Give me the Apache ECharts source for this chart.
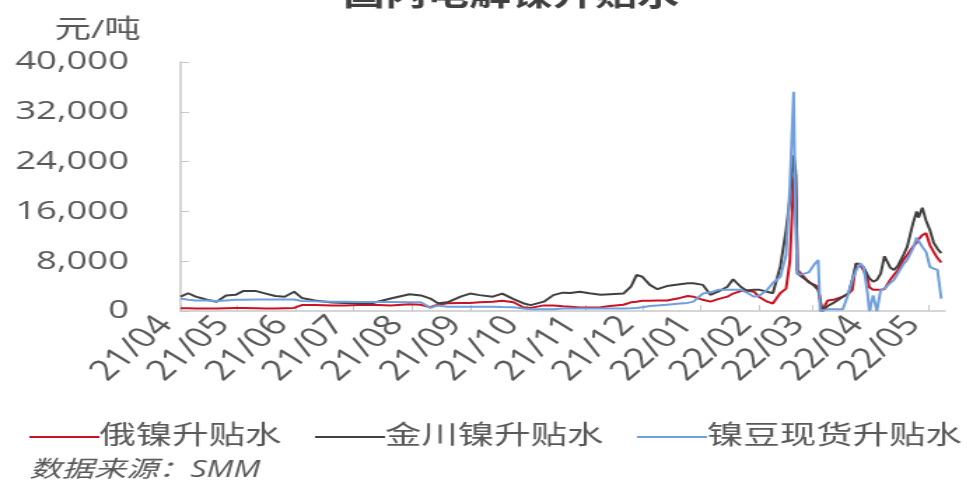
<!DOCTYPE html>
<html>
<head>
<meta charset="utf-8">
<script src="https://cdn.jsdelivr.net/npm/echarts@6.0.0/dist/echarts.min.js"></script>
<style>
  html, body { margin: 0; padding: 0; background: #fff; overflow: hidden; }
  /* the source picture is stretched sideways, so draw narrow and stretch */
  #chart { width: 691px; height: 492px; transform: scaleX(1.4); transform-origin: 0 0; }
</style>
</head>
<body>
<div id="chart"></div>
<script>
const FONT = '"Open Sans", "Noto Sans CJK SC", sans-serif';

const seriesNames = ["俄镍升贴水", "金川镍升贴水", "镍豆现货升贴水"];
const yTicks = [0, 8000, 16000, 24000, 32000, 40000];

const dates = [
  "2021-04-01", "2021-04-05", "2021-04-09", "2021-04-15", "2021-04-20", "2021-04-25", "2021-04-30",
  "2021-05-04", "2021-05-11", "2021-05-16", "2021-05-21", "2021-05-26", "2021-05-31",
  "2021-06-04", "2021-06-11", "2021-06-20", "2021-06-27",
  "2021-07-04", "2021-07-11", "2021-07-21", "2021-07-31",
  "2021-08-06", "2021-08-11", "2021-08-15", "2021-08-20", "2021-08-27",
  "2021-09-01", "2021-09-06", "2021-09-13", "2021-09-18", "2021-09-24", "2021-09-29",
  "2021-10-03", "2021-10-10", "2021-10-15", "2021-10-20", "2021-10-24", "2021-10-29",
  "2021-11-03", "2021-11-09", "2021-11-14", "2021-11-21", "2021-11-25", "2021-11-28",
  "2021-12-01", "2021-12-05", "2021-12-09", "2021-12-14", "2021-12-21", "2021-12-25", "2021-12-28",
  "2022-01-02", "2022-01-06", "2022-01-10", "2022-01-15", "2022-01-18", "2022-01-22", "2022-01-25", "2022-01-29",
  "2022-02-01", "2022-02-05", "2022-02-08", "2022-02-12", "2022-02-15", "2022-02-17", "2022-02-19",
  "2022-02-20", "2022-02-21", "2022-02-22", "2022-02-27",
  "2022-03-02", "2022-03-04", "2022-03-05", "2022-03-06", "2022-03-09", "2022-03-12", "2022-03-17",
  "2022-03-20", "2022-03-22", "2022-03-24", "2022-03-26", "2022-03-28", "2022-03-30", "2022-03-31",
  "2022-04-02", "2022-04-04", "2022-04-06", "2022-04-08", "2022-04-11", "2022-04-13", "2022-04-15",
  "2022-04-18", "2022-04-20", "2022-04-23", "2022-04-25", "2022-04-26", "2022-04-28", "2022-04-30",
  "2022-05-02", "2022-05-04", "2022-05-06", "2022-05-08"
];

// 俄镍升贴水
const russianNickel = [
  450, 450, 400, 400, 400, 450, 500,
  500, 450, 400, 400, 450, 500,
  950, 950, 900, 900,
  950, 1000, 900, 1100,
  1000, 600, 1000, 1250, 1300,
  1300, 1400, 1500, 1650, 1400, 600,
  500, 900, 900, 750, 700, 550,
  550, 600, 800, 1000, 1400, 1500,
  1650, 1650, 1700, 1700, 2100, 2400, 2300,
  1800, 1500, 1900, 2300, 2800, 3200, 3300, 3100,
  2200, 1500, 1200, 2900, 3600, 8000, 21000,
  22000, 6600, 6400, 4600,
  4200, 3800, 1500, 0, 1700, 1800, 2300,
  2800, 3400, 7600, 7500, 6500, 5300, 3800,
  3400, 3400, 3400, 3500, 5000, 5800, 6500,
  8200, 9000, 10300, 11000, 11500, 12200, 12500,
  10600, 9500, 8500, 7800
];

// 金川镍升贴水
const jinchuanNickel = [
  2300, 2850, 2300, 1800, 1500, 2500, 2600,
  3200, 3200, 2800, 2400, 2300, 3100,
  2100, 1700, 1350, 1300,
  1250, 1250, 2000, 2700,
  2500, 2000, 1250, 1400, 2300,
  2800, 2550, 2300, 2800, 1900, 1250,
  950, 1500, 2550, 2950, 2900, 3100,
  2850, 2600, 2700, 2800, 3900, 5800,
  5500, 4200, 3500, 4000, 4300, 4450, 4450,
  4200, 2600, 3100, 3900, 5100, 3900, 3300, 3400,
  3400, 3100, 2850, 7200, 13000, 18000, 25000,
  22500, 6000, 5800, 4700,
  4000, 3400, 2000, 0, 800, 1300, 2300,
  2850, 5000, 7600, 7600, 7000, 5800, 5300,
  4700, 5000, 6000, 8800, 7000, 6600, 7200,
  9000, 10300, 14000, 16000, 15000, 16600, 14500,
  13000, 11000, 10000, 9300
];

// 镍豆现货升贴水
const nickelBeans = [
  2000, 1800, 1700, 1700, 1600, 1700, 1800,
  1800, 1850, 1850, 1850, 1850, 1850,
  1600, 1550, 1500, 1500,
  1450, 1450, 1450, 1400,
  1400, 500, 900, 700, 700,
  700, 700, 700, 650, 600, 400,
  300, 300, 300, 400, 400, 400,
  400, 400, 400, 400, 450, 500,
  600, 800, 900, 1000, 1200, 1300, 1500,
  2800, 3000, 3400, 3400, 3400, 3400, 3000, 2300,
  2500, 3400, 4500, 5500, 9000, 20000, 35200,
  14000, 6200, 5800, 6200,
  7500, 8200, 0, 0, 300, 300, 300,
  2800, 5000, 6500, 7600, 7000, 3000, 0,
  2500, 0, 3400, 3600, 4500, 5000, 6000,
  7500, 8200, 10000, 11800, 11900, 10300, 9500,
  7100, 6800, 6600, 2000
];

const seriesValues = [russianNickel, jinchuanNickel, nickelBeans];
const colors = ["#cc1122", "#404040", "#6f9fdc"];

const chart = echarts.init(document.getElementById("chart"), null, { renderer: "canvas" });

const option = {
  animation: false,
  backgroundColor: "#fff",
  color: colors,
  textStyle: { fontFamily: FONT },
  title: [
    {
      text: "国内电解镍升贴水",
      left: 245, top: -19, padding: 0,
      textStyle: { fontSize: 30, fontWeight: "bold", color: "#404040", fontFamily: FONT }
    },
    {
      text: "元/吨",
      left: 39, top: 18, padding: 0,
      textStyle: { fontSize: 26, fontWeight: "normal", color: "#595959", fontFamily: FONT }
    },
    {
      text: "数据来源：SMM",
      left: 21, top: 459, padding: 0,
      textStyle: { fontSize: 23, fontWeight: "normal", fontStyle: "italic", color: "#595959", fontFamily: FONT }
    }
  ],
  legend: {
    data: seriesNames,
    icon: "rect",
    left: 21, top: 424, width: 700, padding: 0,
    itemWidth: 50, itemHeight: 2, itemGap: 24,
    textStyle: { fontSize: 26, color: "#595959", fontFamily: FONT, padding: [0, 0, 0, -5] }
  },
  grid: { left: 129, right: 16, top: 62, bottom: 181 },
  xAxis: {
    type: "time",
    min: "2021-04-01",
    max: "2022-05-10",
    minInterval: 28 * 86400000,
    maxInterval: 31 * 86400000,
    axisLine: { lineStyle: { color: "#c8c8c8", width: 1.5 } },
    axisTick: { show: true, inside: true, length: 6, lineStyle: { color: "#c8c8c8" } },
    splitLine: { show: false },
    axisLabel: {
      rotate: 50,
      margin: 18,
      verticalAlign: "bottom",
      fontSize: 28,
      color: "#595959",
      fontFamily: FONT,
      hideOverlap: false,
      formatter: (v) => {
        const d = new Date(v);
        return String(d.getFullYear()).slice(2) + "/" + String(d.getMonth() + 1).padStart(2, "0");
      }
    }
  },
  yAxis: {
    type: "value",
    min: yTicks[0],
    max: yTicks[yTicks.length - 1],
    interval: yTicks[1] - yTicks[0],
    axisLine: { show: true, lineStyle: { color: "#c8c8c8", width: 1.5 } },
    axisTick: { show: true, inside: true, length: 6, lineStyle: { color: "#c8c8c8" } },
    splitLine: { show: false },
    axisLabel: {
      margin: 37,
      fontSize: 26,
      color: "#595959",
      fontFamily: FONT,
      formatter: (v) => v.toLocaleString("en-US")
    }
  },
  series: seriesNames.map((name, i) => ({
    name: name,
    type: "line",
    symbol: "none",
    data: dates.map((d, j) => [d, seriesValues[i][j]]),
    lineStyle: { width: 2, color: colors[i] },
    z: 2 + i
  }))
};

chart.setOption(option);
</script>
</body>
</html>
